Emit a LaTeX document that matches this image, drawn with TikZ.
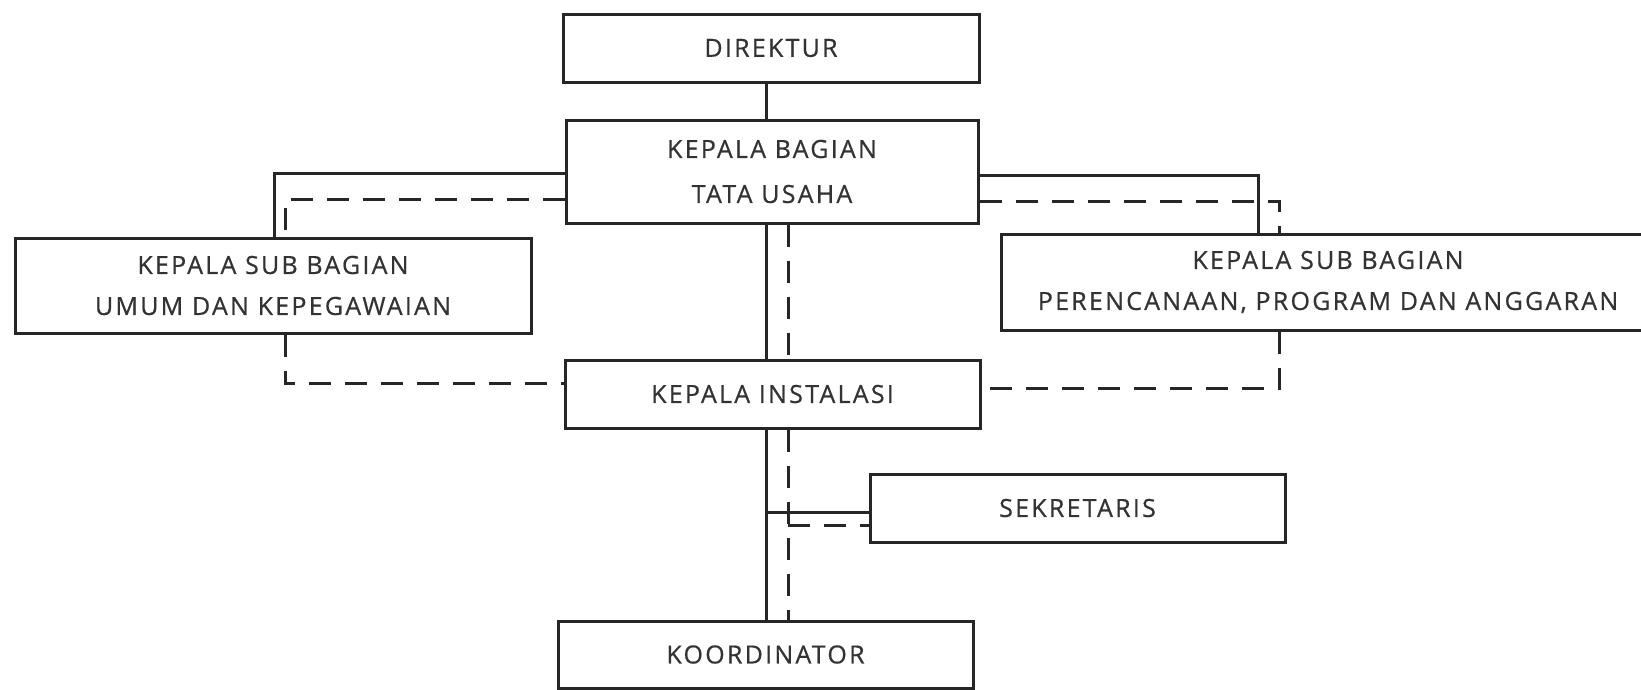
\documentclass[tikz,border=0pt]{standalone}
\usepackage{fontspec}
\setmainfont{Open Sans}[LetterSpace=9,FakeBold=0.6]
\usetikzlibrary{calc}
\begin{document}
\begin{tikzpicture}[x=1pt,y=-1pt,
  box/.style={draw=black!85, line width=3pt, rectangle, inner sep=0pt,
    font=\fontsize{25}{41}\selectfont, text=black!80, align=center},
  solidline/.style={draw=black!85, line width=3pt},
  dashline/.style={draw=black!85, line width=3pt, dash pattern=on 22pt off 14pt}]
\useasboundingbox (0,0) rectangle (1641,689);
\clip (0,0) rectangle (1641,689);
\fill[white] (0,0) rectangle (1641,689);
% nodes
\node[box, minimum width=416pt, minimum height=68pt] (dir) at (771,48) {DIREKTUR};
\node[box, minimum width=412pt, minimum height=103pt, font=\fontsize{25}{45}\selectfont] (kb) at (772,171.5) {KEPALA BAGIAN\\TATA USAHA};
\node[box, minimum width=516pt, minimum height=95pt] (umum) at (273,285.5) {KEPALA SUB BAGIAN\\UMUM DAN KEPEGAWAIAN};
\node[box, minimum width=654pt, minimum height=96pt] (ppa) at (1328,282) {KEPALA SUB BAGIAN\\PERENCANAAN, PROGRAM DAN ANGGARAN};
\node[box, minimum width=415pt, minimum height=68pt] (ki) at (772.5,394) {KEPALA INSTALASI};
\node[box, minimum width=415pt, minimum height=68pt] (sek) at (1077.5,508) {SEKRETARIS};
\node[box, minimum width=415pt, minimum height=67pt] (koor) at (765.5,654.5) {KOORDINATOR};
% helper coordinates (columns and rows)
\coordinate (cs) at (766,0);
\coordinate (cd) at (788,0);
\coordinate (ls) at (274,0);
\coordinate (ld) at (285,0);
\coordinate (rs) at (1258,0);
\coordinate (rd) at (1279,0);
\coordinate (rowSL) at (0,173);
\coordinate (rowSR) at (0,175);
\coordinate (rowDL) at (0,199);
\coordinate (rowDR) at (0,201);
\coordinate (rowKL) at (0,383);
\coordinate (rowKR) at (0,388);
\coordinate (rowSek) at (0,512);
\coordinate (rowSekD) at (0,525);
% solid connectors
\draw[solidline] (dir.south -| cs) -- (kb.north -| cs);
\draw[solidline] (kb.west |- rowSL) -- (ls |- rowSL) -- (umum.north -| ls);
\draw[solidline] (kb.east |- rowSR) -- (rs |- rowSR) -- (ppa.north -| rs);
\draw[solidline] (kb.south -| cs) -- (ki.north -| cs);
\draw[solidline] (ki.south -| cs) -- (koor.north -| cs);
\draw[solidline] (cs |- rowSek) -- (sek.west |- rowSek);
% dashed connectors
\draw[dashline] (kb.west |- rowDL) -- (ld |- rowDL) -- (umum.north -| ld);
\draw[dashline] (kb.east |- rowDR) -- (rd |- rowDR) -- (ppa.north -| rd);
\draw[dashline] (kb.south -| cd) -- (ki.north -| cd);
\draw[dashline] (umum.south -| ld) -- (ld |- rowKL) -- (ki.west |- rowKL);
\draw[dashline] (ppa.south -| rd) -- (rd |- rowKR) -- (ki.east |- rowKR);
\draw[dashline] (ki.south -| cd) -- (koor.north -| cd);
\draw[dashline] (cd |- rowSekD) -- (sek.west |- rowSekD);
\end{tikzpicture}
\end{document}
